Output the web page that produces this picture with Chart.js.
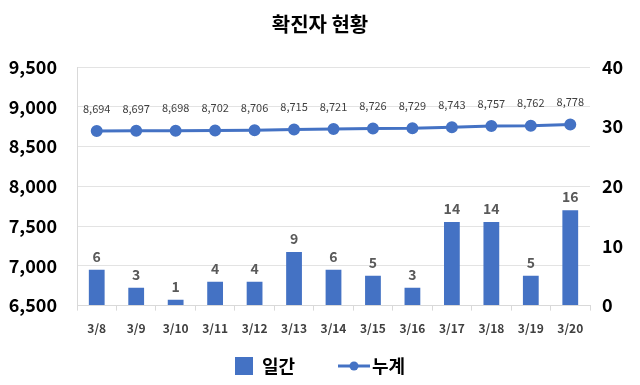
<!DOCTYPE html>
<html>
<head>
<meta charset="utf-8">
<script src="https://cdn.jsdelivr.net/npm/chart.js@4.4.0/dist/chart.umd.min.js"></script>
<style>
  html, body { margin: 0; padding: 0; background: #fff; }
  #wrap { width: 640px; height: 385px; }
</style>
</head>
<body>
<div id="wrap"><canvas id="chart"></canvas></div>
<script>
// 데이터
var days = ['3/8', '3/9', '3/10', '3/11', '3/12', '3/13', '3/14', '3/15', '3/16', '3/17', '3/18', '3/19', '3/20'];
var daily = [6, 3, 1, 4, 4, 9, 6, 5, 3, 14, 14, 5, 16];
var total = [8694, 8697, 8698, 8702, 8706, 8715, 8721, 8726, 8729, 8743, 8757, 8762, 8778];
var leftTicks = [6500, 7000, 7500, 8000, 8500, 9000, 9500];
var rightTicks = [0, 10, 20, 30, 40];

var blue = '#4472C4';
var font = '"Noto Sans CJK KR", "Noto Sans", sans-serif';

// 범례 아이콘: 누계 (선 + 점), 일간 (사각형)
var lineIcon = document.createElement('canvas');
lineIcon.width = 32; lineIcon.height = 12;
var g = lineIcon.getContext('2d');
g.strokeStyle = blue; g.lineWidth = 3;
g.beginPath(); g.moveTo(0, 6); g.lineTo(32, 6); g.stroke();
g.fillStyle = blue;
g.beginPath(); g.arc(16, 6, 4.5, 0, Math.PI * 2); g.fill();

var barIcon = document.createElement('canvas');
barIcon.width = 18; barIcon.height = 18;
var b = barIcon.getContext('2d');
b.fillStyle = blue; b.fillRect(0, 0, 18, 18);

// 값 표시
var valueLabels = {
    id: 'valueLabels',
    afterDatasetsDraw: function (chart) {
        var ctx = chart.ctx;
        ctx.save();
        ctx.textAlign = 'center';
        ctx.textBaseline = 'bottom';
        chart.data.datasets.forEach(function (ds, i) {
            var meta = chart.getDatasetMeta(i);
            meta.data.forEach(function (el, j) {
                if (ds.type === 'bar') {
                    ctx.font = 'bold 14px ' + font;
                    ctx.fillStyle = '#595959';
                    ctx.fillText(ds.data[j], el.x, el.y - 6);
                } else {
                    ctx.font = '11px ' + font;
                    ctx.fillStyle = '#404040';
                    ctx.fillText(ds.data[j].toLocaleString('en-US'), el.x, el.y - 17);
                }
            });
        });
        ctx.restore();
    }
};

new Chart(document.getElementById('chart'), {
    data: {
        labels: days,
        datasets: [
            {
                type: 'line',
                label: '누계',
                data: total,
                yAxisID: 'y',
                borderColor: blue,
                backgroundColor: blue,
                borderWidth: 3,
                pointRadius: 4.5,
                pointHoverRadius: 4.5,
                order: 0
            },
            {
                type: 'bar',
                label: '일간\u2003\u2003',
                data: daily,
                yAxisID: 'y1',
                backgroundColor: blue,
                barPercentage: 0.8,
                categoryPercentage: 0.5,
                order: 1
            }
        ]
    },
    options: {
        responsive: true,
        maintainAspectRatio: false,
        animation: false,
        layout: { padding: { top: 8, left: 0, right: 0, bottom: 0 } },
        plugins: {
            title: {
                display: true,
                text: '확진자 현황',
                color: '#000',
                font: { family: font, size: 20, weight: 'bold' },
                padding: { top: 4, bottom: 31 }
            },
            legend: {
                position: 'bottom',
                reverse: true,
                labels: {
                    usePointStyle: true,
                    color: '#000',
                    font: { family: font, size: 18, weight: 'bold' },
                    padding: 14,
                    boxWidth: 18,
                    generateLabels: function (chart) {
                        var items = Chart.defaults.plugins.legend.labels.generateLabels(chart);
                        items.forEach(function (it) {
                            it.pointStyle = it.datasetIndex === 0 ? lineIcon : barIcon;
                        });
                        return items;
                    }
                }
            },
            tooltip: { enabled: false }
        },
        scales: {
            x: {
                offset: true,
                grid: { offset: true, drawOnChartArea: false, color: '#d9d9d9', tickLength: 5 },
                border: { color: '#d9d9d9' },
                ticks: { color: '#404040', font: { family: font, size: 12, weight: 'bold' }, padding: 11 },
                afterFit: function (s) { s.height -= 4; }
            },
            y: {
                position: 'left',
                min: 6500,
                max: 9500,
                afterBuildTicks: function (s) { s.ticks = leftTicks.map(function (v) { return { value: v }; }); },
                afterFit: function (s) { s.width = 77; },
                grid: { color: '#e3e3e3', drawTicks: false },
                border: { color: '#d9d9d9' },
                ticks: {
                    color: '#000',
                    padding: 20,
                    font: { family: font, size: 18, weight: 'bold' },
                    callback: function (v) { return v.toLocaleString('en-US'); }
                }
            },
            y1: {
                position: 'right',
                min: 0,
                max: 40,
                afterBuildTicks: function (s) { s.ticks = rightTicks.map(function (v) { return { value: v }; }); },
                afterFit: function (s) { s.width = 50; },
                grid: { drawOnChartArea: false, drawTicks: false },
                border: { display: false },
                ticks: {
                    color: '#000',
                    padding: 12,
                    font: { family: font, size: 18, weight: 'bold' }
                }
            }
        }
    },
    plugins: [valueLabels]
});
</script>
</body>
</html>
